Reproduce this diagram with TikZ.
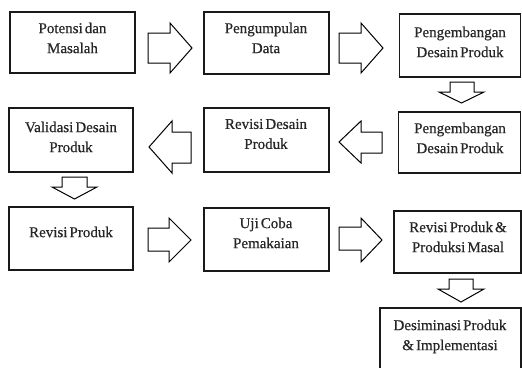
\documentclass[tikz,border=0pt]{standalone}
\usepackage{fontspec}
\setmainfont{Liberation Serif}[WordSpace=0.55,FakeBold=0.5]
\begin{document}
\begin{tikzpicture}[x=1pt,y=-1pt,
  box/.style={draw=black!90,line width=1.3pt,inner sep=0pt},
  txt/.style={align=center,inner sep=0pt,font=\fontsize{15}{20}\selectfont,text=black!85},
  blockarrow/.style={draw=black,line width=1pt,fill=white,line join=miter}]
\useasboundingbox (0,0) rectangle (522,367);
\clip (0,0) rectangle (522,367);
% boxes
\node[box] (b1) at (72.5,42.5) [minimum width=125pt,minimum height=61pt] {};
\node[box] (b2) at (266.5,43) [minimum width=125pt,minimum height=62pt] {};
\node[box] (b3) at (460,45.5) [minimum width=121pt,minimum height=63pt] {};
\node[box] (b4) at (71,140) [minimum width=124pt,minimum height=64pt] {};
\node[box] (b5) at (266.5,140) [minimum width=125pt,minimum height=64pt] {};
\node[box] (b6) at (459.5,142.5) [minimum width=122pt,minimum height=61pt] {};
\node[box] (b8) at (71,238.5) [minimum width=124pt,minimum height=63pt] {};
\node[box] (b9) at (266.5,239.5) [minimum width=125pt,minimum height=63pt] {};
\node[box] (b10) at (457.5,242) [minimum width=127pt,minimum height=62pt] {};
\node[box] (b12) at (450.5,342) [minimum width=141pt,minimum height=68pt] {};
% texts
\node[txt] (t1) at (72.5,38) {Potensi dan\\Masalah};
\node[txt] (t2) at (266,38) {Pengumpulan\\Data};
\node[txt] (t3) at (460,42) {Pengembangan\\Desain Produk};
\node[txt] (t4) at (71,137) {Validasi Desain\\Produk};
\node[txt] (t5) at (266,134) {Revisi Desain\\Produk};
\node[txt] (t6) at (460,138) {Pengembangan\\Desain Produk};
\node[txt] (t8) at (71,232) {Revisi Produk};
\node[txt] (t9) at (266,233) {Uji Coba\\Pemakaian};
\node[txt] (t10) at (458,237) {Revisi Produk \&\\Produksi Masal};
\node[txt] (t12) at (450,336.5) {Desiminasi Produk\\\& Implementasi};
% block arrows
% right arrows
\draw[blockarrow] (148,33) -- (170,33) -- (170,23) -- (192,48) -- (170,73) -- (170,63) -- (148,63) -- cycle;
\draw[blockarrow] (339,33) -- (361,33) -- (361,23) -- (383,48) -- (361,73) -- (361,63) -- (339,63) -- cycle;
\draw[blockarrow] (148,228) -- (169,228) -- (169,218) -- (191,240) -- (169,262) -- (169,251) -- (148,251) -- cycle;
\draw[blockarrow] (339,227) -- (361,227) -- (361,218) -- (382,240) -- (361,262) -- (361,250) -- (339,250) -- cycle;
% left arrows
\draw[blockarrow] (191,132) -- (172,132) -- (172,121) -- (149,147) -- (172,173) -- (172,163) -- (191,163) -- cycle;
\draw[blockarrow] (382,132) -- (361,132) -- (361,121) -- (339,142) -- (361,163) -- (361,153) -- (382,153) -- cycle;
% down arrows
\draw[blockarrow] (450,82) -- (450,92) -- (439,92) -- (461.5,103) -- (484,92) -- (474,92) -- (474,82) -- cycle;
\draw[blockarrow] (62,177) -- (62,187) -- (52,187) -- (74.5,199) -- (97,187) -- (87,187) -- (87,177) -- cycle;
\draw[blockarrow] (449,279) -- (449,289) -- (438,289) -- (461,302) -- (484,289) -- (473,289) -- (473,279) -- cycle;
\end{tikzpicture}
\end{document}
